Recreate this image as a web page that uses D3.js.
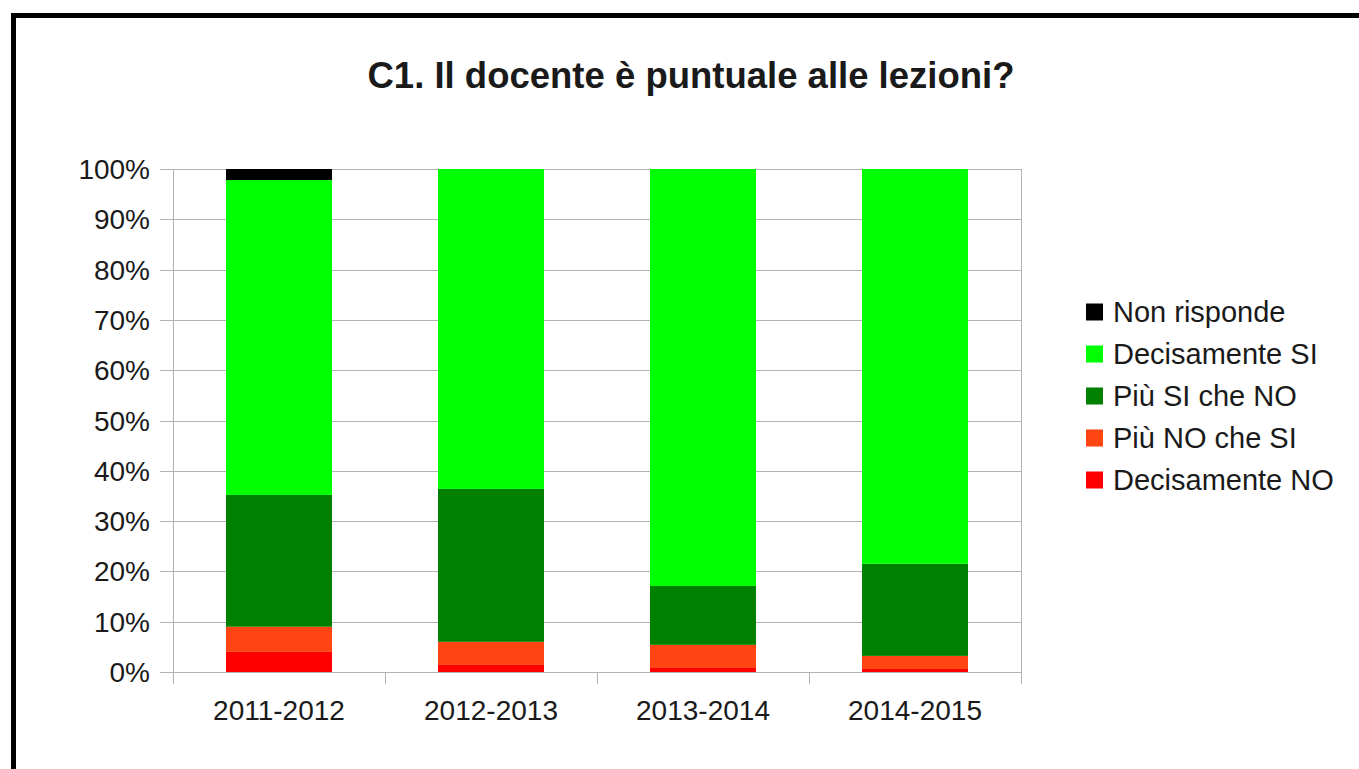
<!DOCTYPE html>
<html>
<head>
<meta charset="utf-8">
<script src="https://cdn.jsdelivr.net/npm/d3@7"></script>
<style>
  body { margin: 0; background: #fff; }
  svg { display: block; font-family: "Liberation Sans", Arial, sans-serif; }
</style>
</head>
<body>
<svg width="1359" height="769"></svg>
<script>
// anni accademici
var years = ["2011-2012", "2012-2013", "2013-2014", "2014-2015"];
// serie, dal basso verso l'alto
var seriesNames = ["Decisamente NO", "Più NO che SI", "Più SI che NO", "Decisamente SI", "Non risponde"];
var seriesColors = ["#ff0000", "#ff4512", "#008000", "#00ff00", "#000000"];
var decisamenteNo = [4.0, 1.4, 0.8, 0.6];
var piuNoCheSi = [5.0, 4.6, 4.6, 2.6];
var piuSiCheNo = [26.2, 30.4, 11.7, 18.3];
var decisamenteSi = [62.6, 63.6, 82.9, 78.5];
var nonRisponde = [2.2, 0, 0, 0];
var yTicks = [0, 10, 20, 30, 40, 50, 60, 70, 80, 90, 100];

var values = [decisamenteNo, piuNoCheSi, piuSiCheNo, decisamenteSi, nonRisponde];
var table = years.map(function(yr, i) {
	var row = { year: yr };
	seriesNames.forEach(function(s, j) { row[s] = values[j][i]; });
	return row;
});

var svg = d3.select("svg");

// cornice
svg.append("rect")
	.attr("x", 13.5).attr("y", 15.5)
	.attr("width", 2000).attr("height", 2000)
	.attr("fill", "none")
	.attr("stroke", "#000")
	.attr("stroke-width", 5);

svg.append("text")
	.attr("x", 691).attr("y", 88)
	.attr("text-anchor", "middle")
	.attr("font-size", 36.5)
	.attr("font-weight", "bold")
	.attr("fill", "#1a1a1a")
	.text("C1. Il docente è puntuale alle lezioni?");

var pLeft = 173, pRight = 1021, pTop = 169, pBottom = 672;

var x = d3.scaleBand().domain(years).range([pLeft, pRight]).paddingInner(0.5).paddingOuter(0.25);
var xb = d3.scaleBand().domain(years).range([pLeft, pRight]);
var y = d3.scaleLinear().domain([0, 100]).range([pBottom, pTop]);

// griglia
svg.append("g")
	.selectAll("line")
	.data(yTicks)
	.enter()
	.append("line")
	.attr("x1", pLeft - 13).attr("x2", pRight)
	.attr("y1", d => Math.round(y(d)) + 0.5)
	.attr("y2", d => Math.round(y(d)) + 0.5)
	.attr("stroke", "#b3b3b3");

// barre
var stack = d3.stack().keys(seriesNames)(table);
svg.append("g")
	.selectAll("g")
	.data(stack)
	.enter()
	.append("g")
	.attr("fill", (d, i) => seriesColors[i])
	.selectAll("rect")
	.data(d => d)
	.enter()
	.append("rect")
	.attr("x", d => x(d.data.year))
	.attr("width", x.bandwidth())
	.attr("y", d => y(d[1]))
	.attr("height", d => y(d[0]) - y(d[1]));

// assi
var axisG = svg.append("g").attr("stroke", "#b3b3b3");
axisG.append("line")
	.attr("x1", pLeft + 0.5).attr("x2", pLeft + 0.5)
	.attr("y1", pTop).attr("y2", pBottom + 12);
axisG.append("line")
	.attr("x1", pRight + 0.5).attr("x2", pRight + 0.5)
	.attr("y1", pTop).attr("y2", pBottom + 12);
axisG.selectAll(".xt")
	.data(years.slice(1))
	.enter()
	.append("line")
	.attr("x1", d => Math.round(xb(d)) + 0.5)
	.attr("x2", d => Math.round(xb(d)) + 0.5)
	.attr("y1", pBottom).attr("y2", pBottom + 12);

svg.append("g")
	.selectAll("text")
	.data(yTicks)
	.enter()
	.append("text")
	.attr("x", 150)
	.attr("y", d => y(d) + 10)
	.attr("text-anchor", "end")
	.attr("font-size", 28)
	.attr("fill", "#1a1a1a")
	.text(d => d + "%");

svg.append("g")
	.selectAll("text")
	.data(years)
	.enter()
	.append("text")
	.attr("x", d => xb(d) + xb.bandwidth() / 2)
	.attr("y", 720)
	.attr("text-anchor", "middle")
	.attr("font-size", 28)
	.attr("fill", "#1a1a1a")
	.text(d => d);

// legenda
var legend = svg.append("g")
	.selectAll("g")
	.data(seriesNames.slice().reverse())
	.enter()
	.append("g")
	.attr("transform", (d, i) => "translate(1086," + (312 + i * 42) + ")");
legend.append("rect")
	.attr("x", 0).attr("y", -8.5)
	.attr("width", 17).attr("height", 17)
	.attr("fill", d => seriesColors[seriesNames.indexOf(d)]);
legend.append("text")
	.attr("x", 27).attr("y", 10)
	.attr("font-size", 29)
	.attr("fill", "#1a1a1a")
	.text(d => d);
</script>
</body>
</html>
